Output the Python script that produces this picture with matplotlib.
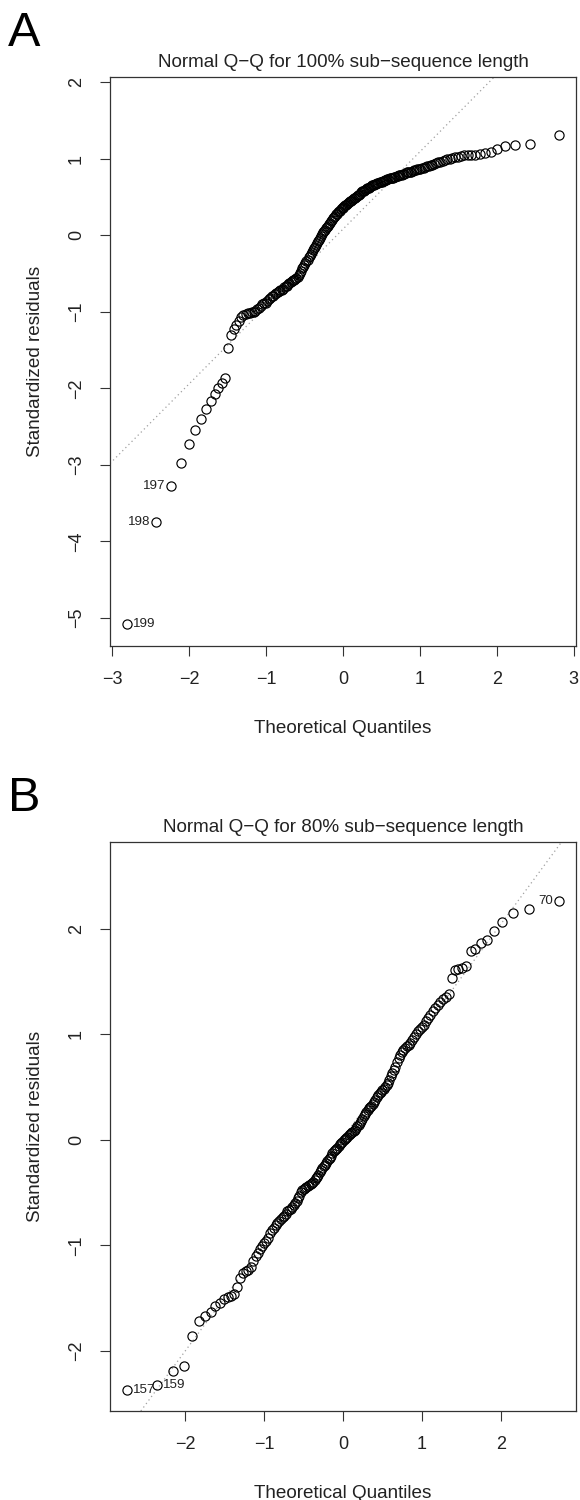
import matplotlib
matplotlib.use("Agg")
import matplotlib.pyplot as plt
from statistics import NormalDist
import numpy as np

plt.rcParams["font.family"] = ["Liberation Sans", "DejaVu Sans"]

# ---- data: sorted standardized residuals -------------------------------------

# panel A, 100% sub-sequence length (200 residuals, ascending)
resid_100 = [
    -5.08, -3.74, -3.28, -2.97, -2.73, -2.55, -2.40, -2.27, -2.16, -2.07,
    -1.99, -1.93, -1.86, -1.48, -1.30, -1.22, -1.17, -1.12, -1.07, -1.04,
    -1.03, -1.02, -1.02, -1.01, -1.00, -0.99, -0.97, -0.95, -0.93, -0.90,
    -0.89, -0.88, -0.86, -0.84, -0.82, -0.80, -0.79, -0.77, -0.76, -0.74,
    -0.73, -0.72, -0.71, -0.70, -0.68, -0.67, -0.66, -0.64, -0.62, -0.61,
    -0.60, -0.59, -0.58, -0.57, -0.56, -0.55, -0.52, -0.50, -0.47, -0.43,
    -0.41, -0.39, -0.37, -0.34, -0.32, -0.29, -0.27, -0.24, -0.22, -0.20,
    -0.17, -0.15, -0.13, -0.10, -0.08, -0.06, -0.04, -0.01, 0.01, 0.04,
    0.06, 0.07, 0.09, 0.11, 0.12, 0.14, 0.16, 0.18, 0.20, 0.22,
    0.24, 0.25, 0.27, 0.28, 0.30, 0.31, 0.32, 0.34, 0.35, 0.36,
    0.37, 0.38, 0.39, 0.40, 0.41, 0.42, 0.43, 0.44, 0.45, 0.46,
    0.47, 0.48, 0.49, 0.50, 0.51, 0.52, 0.53, 0.54, 0.56, 0.57,
    0.58, 0.58, 0.59, 0.60, 0.61, 0.62, 0.62, 0.63, 0.64, 0.65,
    0.66, 0.66, 0.67, 0.67, 0.68, 0.68, 0.69, 0.70, 0.70, 0.71,
    0.71, 0.72, 0.72, 0.73, 0.73, 0.74, 0.74, 0.75, 0.75, 0.76,
    0.76, 0.77, 0.77, 0.78, 0.79, 0.79, 0.80, 0.80, 0.81, 0.82,
    0.82, 0.83, 0.83, 0.84, 0.85, 0.85, 0.86, 0.86, 0.87, 0.88,
    0.88, 0.89, 0.90, 0.90, 0.91, 0.92, 0.93, 0.94, 0.95, 0.96,
    0.97, 0.98, 0.99, 1.00, 1.01, 1.02, 1.02, 1.03, 1.04, 1.04,
    1.05, 1.05, 1.06, 1.07, 1.08, 1.13, 1.16, 1.18, 1.19, 1.31,
]
# row names of the three most extreme residuals (rank in sorted order -> id)
ids_100 = {0: "199", 1: "198", 2: "197"}

# panel B, 80% sub-sequence length (160 residuals, ascending)
resid_80 = [
    -2.37, -2.32, -2.19, -2.14, -1.86, -1.72, -1.67, -1.63, -1.58, -1.55,
    -1.51, -1.49, -1.48, -1.46, -1.40, -1.31, -1.26, -1.24, -1.23, -1.21,
    -1.15, -1.10, -1.07, -1.04, -1.01, -0.98, -0.96, -0.93, -0.88, -0.86,
    -0.84, -0.81, -0.79, -0.77, -0.75, -0.73, -0.72, -0.70, -0.68, -0.67,
    -0.66, -0.64, -0.62, -0.60, -0.58, -0.55, -0.53, -0.50, -0.48, -0.47,
    -0.46, -0.45, -0.44, -0.43, -0.42, -0.41, -0.40, -0.38, -0.36, -0.35,
    -0.33, -0.31, -0.29, -0.27, -0.25, -0.24, -0.22, -0.20, -0.18, -0.17,
    -0.15, -0.13, -0.11, -0.10, -0.09, -0.08, -0.06, -0.04, -0.03, -0.02,
    0.00, 0.01, 0.02, 0.03, 0.04, 0.05, 0.06, 0.07, 0.08, 0.09,
    0.11, 0.13, 0.14, 0.16, 0.18, 0.20, 0.22, 0.24, 0.26, 0.28,
    0.30, 0.31, 0.32, 0.34, 0.36, 0.38, 0.40, 0.42, 0.44, 0.45,
    0.47, 0.48, 0.50, 0.52, 0.54, 0.57, 0.60, 0.63, 0.66, 0.69,
    0.74, 0.77, 0.80, 0.83, 0.85, 0.87, 0.89, 0.90, 0.92, 0.94,
    0.97, 1.00, 1.03, 1.05, 1.07, 1.09, 1.12, 1.15, 1.18, 1.22,
    1.25, 1.28, 1.30, 1.33, 1.35, 1.38, 1.53, 1.61, 1.62, 1.63,
    1.65, 1.79, 1.81, 1.86, 1.89, 1.98, 2.06, 2.15, 2.19, 2.26,
]
ids_80 = {0: "157", 1: "159", 159: "70"}

titles = ["Normal Q\u2212Q for 100% sub\u2212sequence length",
          "Normal Q\u2212Q for 80% sub\u2212sequence length"]
panel_letters = ["A", "B"]
x_ticks = [[-3, -2, -1, 0, 1, 2, 3], [-2, -1, 0, 1, 2]]
y_ticks = [[-5, -4, -3, -2, -1, 0, 1, 2], [-2, -1, 0, 1, 2]]
x_limits = [(-3.03, 3.03), (-2.95, 2.95)]
y_limits = [(-5.365, 2.065), (-2.57, 2.82)]
# which side the id label goes on ("left" / "right")
label_side = [{0: "right", 1: "left", 2: "left"},
              {0: "right", 1: "right", 159: "left"}]


def theoretical_quantiles(n):
    # same as R's qnorm(ppoints(n)) for n > 10
    nd = NormalDist()
    return np.array([nd.inv_cdf((i + 0.5) / n) for i in range(n)])


fig = plt.figure(figsize=(5.8, 15), dpi=100)

# axes boxes in pixels: left, top, right, bottom
boxes = [(110, 77, 576, 646), (110, 842, 576, 1411)]

for k, (resid, ids) in enumerate([(resid_100, ids_100), (resid_80, ids_80)]):
    l, t, r, b = boxes[k]
    ax = fig.add_axes([l / 580, 1 - b / 1500, (r - l) / 580, (b - t) / 1500])

    y = np.array(resid)
    x = theoretical_quantiles(len(y))

    # qqline through the quartiles (like R's qqline)
    y_q = np.percentile(y, [25, 75])
    x_q = np.array([NormalDist().inv_cdf(0.25), NormalDist().inv_cdf(0.75)])
    slope = (y_q[1] - y_q[0]) / (x_q[1] - x_q[0])
    inter = y_q[0] - slope * x_q[0]
    ax.axline((0, inter), slope=slope, color="#a0a0a0", lw=0.9,
              linestyle=(0, (1, 2.5)), zorder=1)

    ax.plot(x, y, "o", mfc="none", mec="black", ms=6.6, mew=0.85, zorder=2)

    for idx, name in ids.items():
        side = label_side[k][idx]
        dx = 4.0 if side == "right" else -4.0
        ax.annotate(name, (x[idx], y[idx]), xytext=(dx, 0),
                    textcoords="offset points",
                    ha="left" if side == "right" else "right",
                    va="center", fontsize=9.6, color="#222222")

    ax.set_xlim(x_limits[k])
    ax.set_ylim(y_limits[k])
    ax.set_xticks(x_ticks[k])
    ax.set_yticks(y_ticks[k])
    ax.tick_params(direction="out", length=7.5, width=0.8, labelsize=13,
                   colors="#333333", labelcolor="#222222", pad=10.5)
    for lab in ax.get_yticklabels():
        lab.set_rotation(90)
        lab.set_va("center")
    for sp in ax.spines.values():
        sp.set_linewidth(0.9)
        sp.set_color("#333333")

    ax.set_title(titles[k], fontsize=13.6, pad=7, color="#222222")
    ax.set_xlabel("Theoretical Quantiles", fontsize=13.6, labelpad=23,
                  color="#222222")
    ax.set_ylabel("Standardized residuals", fontsize=13.6, labelpad=17,
                  color="#222222")

    fig.text(8 / 580, 1 - (t - 31) / 1500, panel_letters[k], fontsize=35,
             va="baseline", ha="left", color="black")

fig.savefig("out.png", dpi=100)
